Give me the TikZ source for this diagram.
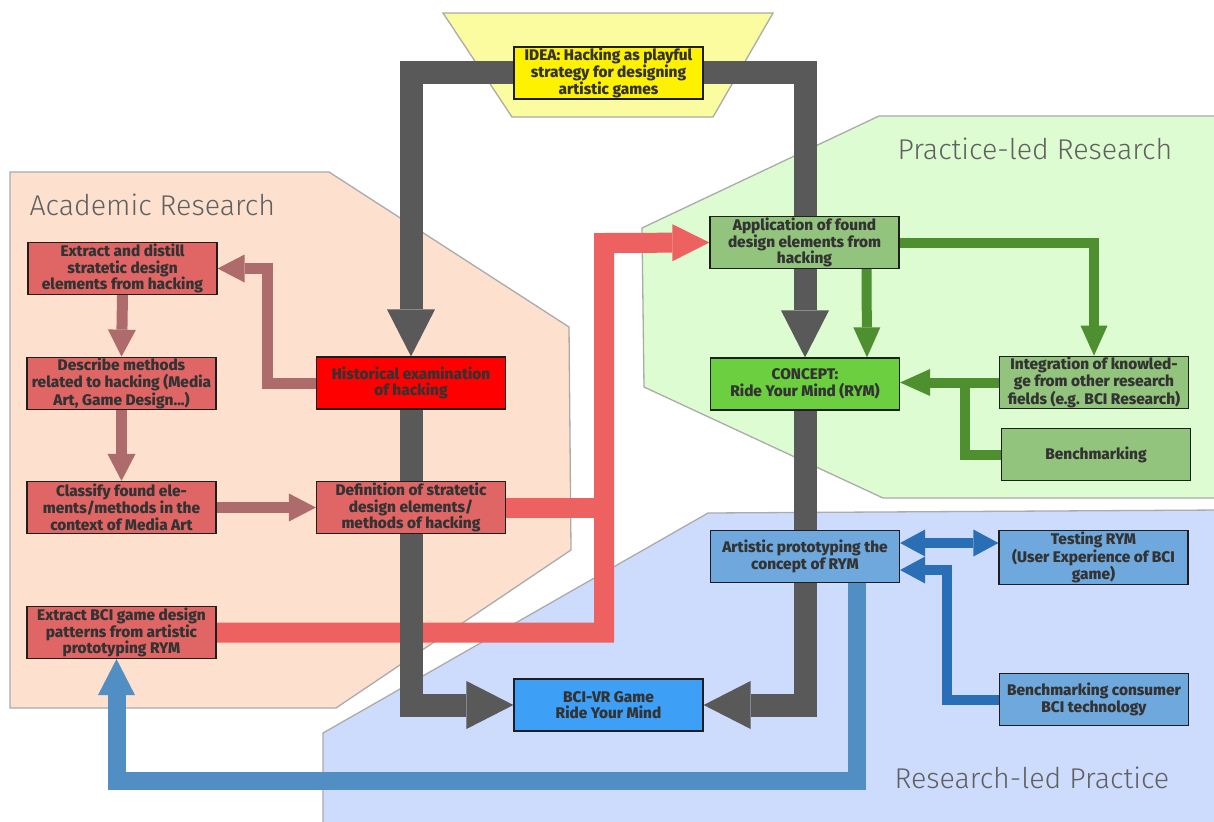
\documentclass[tikz,border=0pt]{standalone}
\usepackage{fontspec}
\setmainfont{Fira Sans}
\IfFontExistsTF{Fira Sans Light}{\newfontfamily\lightfont{Fira Sans Light}}{\newfontfamily\lightfont{Fira Sans}}
\IfFontExistsTF{Fira Sans ExtraBold}{\newfontfamily\boxfont{Fira Sans ExtraBold}}{\newfontfamily\boxfont{Fira Sans Bold}}
\usetikzlibrary{arrows.meta, backgrounds}
\definecolor{peach}{HTML}{FDE0CE}
\definecolor{mint}{HTML}{DEFCD1}
\definecolor{lavender}{HTML}{CDDBFC}
\definecolor{lemon}{HTML}{FBFB9F}
\definecolor{regionline}{HTML}{ABABAB}
\definecolor{boxline}{HTML}{1E1E1E}
\definecolor{boxtext}{HTML}{333333}
\definecolor{acred}{HTML}{E06666}
\definecolor{histred}{HTML}{FF0000}
\definecolor{acarr}{HTML}{AE6B6B}
\definecolor{redarr}{HTML}{EE6161}
\definecolor{bargray}{HTML}{595959}
\definecolor{prgreen}{HTML}{93C47D}
\definecolor{conceptgreen}{HTML}{6BCF3F}
\definecolor{grarr}{HTML}{4E8F2F}
\definecolor{rpblue}{HTML}{6FA8DC}
\definecolor{gameblue}{HTML}{3D9FF5}
\definecolor{blarr}{HTML}{2A6EB5}
\definecolor{lblarr}{HTML}{508EC4}
\definecolor{labelgray}{HTML}{606060}

\begin{document}
\begin{tikzpicture}[x=1pt, y=-1pt,
    box/.style={draw=boxline, line width=1.2pt, minimum width=189pt, minimum height=52pt,
      inner sep=1pt, align=center, text=boxtext, font=\boxfont\fontsize{15.4}{16.7}\selectfont},
    acbox/.style={box, fill=acred},
    prbox/.style={box, fill=prgreen},
    rpbox/.style={box, fill=rpblue},
    region/.style={draw=regionline, line width=1.3pt},
    regionlabel/.style={anchor=west, text=labelgray, font=\lightfont\fontsize{28.6}{33}\selectfont},
    graybar/.style={draw=bargray, line width=23pt, -{Triangle[length=47pt,width=48pt,line width=0pt]}},
    acarrow/.style={draw=acarr, line width=11pt, -{Triangle[length=27pt,width=28pt,line width=0pt]}},
    redline/.style={draw=redarr, line width=20pt},
    redarrow/.style={redline, -{Triangle[length=37pt,width=37pt,line width=0pt]}},
    greenline/.style={draw=grarr, line width=10pt},
    greenarrow/.style={greenline, -{Triangle[length=30pt,width=27pt,line width=0pt]}},
    bluearrow/.style={draw=blarr, line width=10pt, -{Triangle[length=25pt,width=27pt,line width=0pt]}},
    lbluearrow/.style={draw=lblarr, line width=18pt, -{Triangle[length=36pt,width=37pt,line width=0pt]}}]
  \useasboundingbox (0,0) rectangle (1214,821);

  \node[box, fill=yellow] (idea) at (608.5,73) {IDEA: Hacking as playful\\strategy for designing\\artistic games};

  \node[acbox] (extract) at (122.5,268.5) {Extract and distill\\stratetic design\\elements from hacking};
  \node[acbox] (describe) at (121.5,383.5) {Describe methods\\related to hacking (Media\\Art, Game Design...)};
  \node[acbox] (classify) at (121.5,507.5) {Classify found ele-\\ments/methods in the\\context of Media Art};
  \node[box, fill=histred] (hist) at (411,383) {Historical examination\\of hacking};
  \node[acbox] (defn) at (411,507.5) {Definition of stratetic\\design elements/\\methods of hacking};
  \node[acbox] (bcipat) at (121.5,632.5) {Extract BCI game design\\patterns from artistic\\prototyping RYM};

  \node[prbox] (apply) at (804.5,242.5) {Application of found\\design elements from\\hacking};
  \node[box, fill=conceptgreen] (concept) at (805,384) {CONCEPT:\\Ride Your Mind (RYM)};
  \node[prbox] (integr) at (1094,382.5) {Integration of knowled-\\ge from other research\\fields (e.g. BCI Research)};
  \node[prbox] (bench) at (1096,454.5) {Benchmarking};

  \node[rpbox] (artist) at (805,556.5) {Artistic prototyping the\\concept of RYM};
  \node[rpbox] (testing) at (1093.5,557.5) {Testing RYM\\(User Experience of BCI\\game)};
  \node[rpbox] (bencons) at (1094,699.5) {Benchmarking consumer\\BCI technology};
  \node[box, fill=gameblue] (bcivr) at (608.5,705) {BCI-VR Game\\Ride Your Mind};

  \begin{scope}[on background layer]
    \fill[white] (0,0) rectangle (1214,821);
    \filldraw[region, fill=peach] (10,172) -- (329,172) -- (569,327) -- (571,550) -- (336,708) -- (10,708) -- cycle;
    \filldraw[region, fill=mint] (879,116) -- (1222,116) -- (1222,498) -- (883,498) -- (644,387) -- (642,228) -- cycle;
    \filldraw[region, fill=lavender] (708,513) -- (1222,510) -- (1222,830) -- (323,830) -- (323,733) -- cycle;
    \filldraw[region, fill=lemon] (443,13) -- (773,13) -- (713,117) -- (512,117) -- cycle;
    \node[regionlabel] (acadlabel) at (26,205) {Academic Research};
    \node[regionlabel] (praclabel) at (894,149) {Practice-led Research};
    \node[regionlabel] (reslabel) at (891,778) {Research-led Practice};

    \draw[acarrow] (hist.west) -- ++(-48,0) |- (extract.east);
    \draw[acarrow] (extract.south) -- (describe.north);
    \draw[acarrow] (describe.south) -- (classify.north);
    \draw[acarrow] (classify.east) -- (defn.west);

    \coordinate (redcol) at (604,243);
    \draw[redarrow] (bcipat.east) -| (redcol) -- (apply.west);
    \draw[redline] (defn.east) -- (defn.east -| redcol);

    \draw[greenarrow] ([xshift=62pt]apply.south) -- ([xshift=62pt]concept.north);
    \draw[greenarrow] (apply.east) -| (integr.north);
    \draw[greenarrow] (integr.west) -- (integr.west -| concept.east);
    \draw[greenline] (bench.west) -| ([xshift=-34pt]integr.west);

    \draw[bluearrow, {Triangle[length=25pt,width=27pt,line width=0pt]}-{Triangle[length=25pt,width=27pt,line width=0pt]}]
      ([yshift=13.5pt]artist.east) -- ([yshift=13.5pt]artist.east -| testing.west);
    \draw[bluearrow] (bencons.west) -- ++(-52,0) |- ([yshift=-13.5pt]artist.east);

    \coordinate (loopbot) at (480,781);
    \draw[lbluearrow] ([xshift=52pt]artist.south) |- (loopbot) -| ([xshift=-5pt]bcipat.south);

    \draw[graybar] (idea.west) -| (hist.north);
    \draw[graybar] (idea.east) -| (concept.north);
    \draw[graybar] (hist.south) |- (bcivr.west);
    \draw[graybar] (concept.south) |- (bcivr.east);
  \end{scope}
\end{tikzpicture}
\end{document}
